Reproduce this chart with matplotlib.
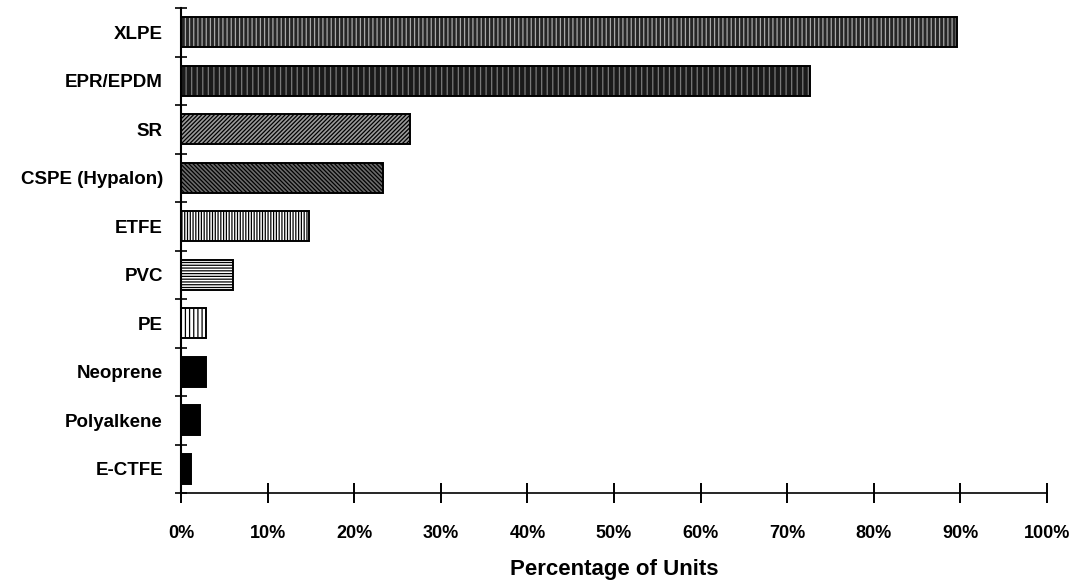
import matplotlib
matplotlib.use("Agg")
import matplotlib.pyplot as plt
import numpy as np

# Insulation materials, top to bottom
materiales = ["XLPE", "EPR/EPDM", "SR", "CSPE (Hypalon)", "ETFE",
              "PVC", "PE", "Neoprene", "Polyalkene", "E-CTFE"]
porcentajes = [89.6, 72.6, 26.4, 23.3, 14.8, 6.0, 2.9, 2.9, 2.2, 1.2]

ticks_x = [0, 10, 20, 30, 40, 50, 60, 70, 80, 90, 100]
etiquetas_x = [f"{t}%" for t in ticks_x]

# (relleno, trama, color de la trama) for each bar
estilos = [
    ("#262626", "||||", "#a8a8a8"),
    ("#1a1a1a", "|||", "#7a7a7a"),
    ("#9a9a9a", "////////", "black"),
    ("#6a6a6a", "\\\\\\\\\\\\\\\\", "black"),
    ("white", "||||||", "black"),
    ("white", "------", "black"),
    ("white", "||||", "black"),
    ("black", None, "black"),
    ("black", None, "black"),
    ("black", None, "black"),
]

plt.rcParams["font.family"] = ["Liberation Sans", "DejaVu Sans"]
plt.rcParams["font.weight"] = "bold"
plt.rcParams["hatch.linewidth"] = 0.9

fig = plt.figure(figsize=(10.75, 5.84), dpi=100)
ax = fig.add_axes([0.1684, 0.1558, 0.8056, 0.8302])

y = np.arange(len(materiales))
for yi, val, (fc, hatch, hc) in zip(y, porcentajes, estilos):
    # fill + hatch first, then a plain black outline on top
    ax.barh(yi, val, height=0.62, color=fc, edgecolor=hc, hatch=hatch,
            linewidth=0, zorder=2)
    ax.barh(yi, val, height=0.62, fill=False, edgecolor="black",
            linewidth=1.4, zorder=3)

ax.set_xlim(0, 100)
ax.set_ylim(len(materiales) - 0.5, -0.5)

ax.spines["top"].set_visible(False)
ax.spines["right"].set_visible(False)
ax.spines["left"].set_linewidth(1.5)
ax.spines["bottom"].set_linewidth(1.2)

# category labels at the bar centres, tick marks at the boundaries
ax.set_yticks(y)
ax.set_yticklabels(materiales, fontsize=13.5, fontweight="bold")
ax.set_yticks(np.arange(len(materiales) + 1) - 0.5, minor=True)
ax.tick_params(axis="y", which="major", length=0, pad=13)
ax.tick_params(axis="y", which="minor", direction="inout", length=8, width=1.2)

ax.set_xticks(ticks_x)
ax.set_xticklabels(etiquetas_x, fontsize=13, fontweight="bold")
ax.tick_params(axis="x", direction="inout", length=14, width=1.4, pad=16)

ax.set_xlabel("Percentage of Units", fontsize=16, fontweight="bold", labelpad=12)

fig.savefig("out.png", dpi=100)
